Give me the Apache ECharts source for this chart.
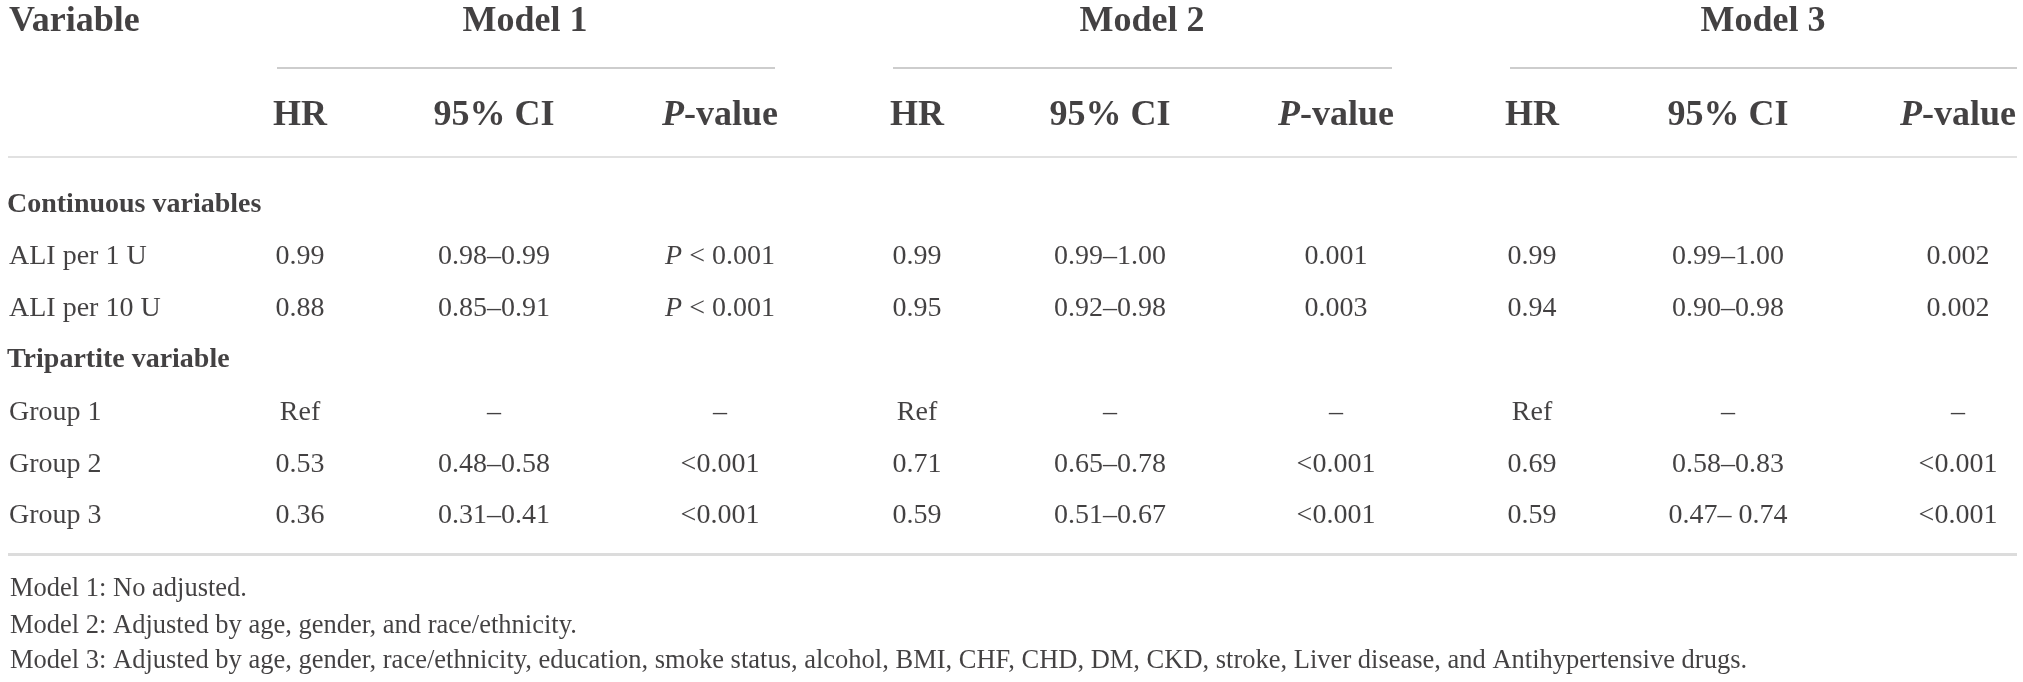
<!DOCTYPE html>
<title>hr table</title>
<style>
body {
    margin: 0;
    background: #fff;
}
#echart {
    height: 100vh;
    width: 100vw;
}
</style>
<div id='echart'></div>
<script src='https://cdn.jsdelivr.net/npm/echarts@6.0.0/dist/echarts.min.js'></script>
<script>
// table content
let models = ['Model 1', 'Model 2', 'Model 3']
let stat_headers = ['HR', '95% CI', '{bi|P}-value']
let sections = ['Continuous variables', 'Tripartite variable']
let row_labels = ['ALI per 1 U', 'ALI per 10 U', 'Group 1', 'Group 2', 'Group 3']
let hr = [
    ['0.99', '0.88', 'Ref', '0.53', '0.36'],
    ['0.99', '0.95', 'Ref', '0.71', '0.59'],
    ['0.99', '0.94', 'Ref', '0.69', '0.59'],
]
let ci = [
    ['0.98–0.99', '0.85–0.91', '–', '0.48–0.58', '0.31–0.41'],
    ['0.99–1.00', '0.92–0.98', '–', '0.65–0.78', '0.51–0.67'],
    ['0.99–1.00', '0.90–0.98', '–', '0.58–0.83', '0.47– 0.74'],
]
let p_values = [
    ['{i|P} < 0.001', '{i|P} < 0.001', '–', '<0.001', '<0.001'],
    ['0.001', '0.003', '–', '<0.001', '<0.001'],
    ['0.002', '0.002', '–', '<0.001', '<0.001'],
]
let footnotes = [
    'Model 1: No adjusted.',
    'Model 2: Adjusted by age, gender, and race/ethnicity.',
    'Model 3: Adjusted by age, gender, race/ethnicity, education, smoke status, alcohol, BMI, CHF, CHD, DM, CKD, stroke, Liver disease, and Antihypertensive drugs.',
]

// layout (page units, same as the 2023x682 window)
let WIDTH = 2023
let HEIGHT = 682
let LEFT = 9
let RIGHT = 2017
let MODEL_X = [525, 1142, 1763]
let COL_X = [[300, 494, 720], [917, 1110, 1336], [1532, 1728, 1958]]
let MODEL_LINE = [[277, 775], [893, 1392], [1510, 2017]]
let Y_TITLE = 22
let Y_MODEL_LINE = 68
let Y_STATS = 116
let Y_TOP_RULE = 157
let Y_SECTION = [205, 360]
let Y_ROWS = [257, 309, 413, 465, 516]
let Y_BOTTOM_RULE = 554
let Y_NOTES = [589, 626, 661]

let FONT = 'Liberation Serif'
let INK = '#141213'

let echart = echarts.init(document.querySelector('#echart'))

function text_series(data, size, weight, align) {
    return {
        type: 'scatter',
        symbolSize: 0,
        silent: true,
        data: data,
        label: {
            show: true,
            position: 'inside',
            align: align,
            verticalAlign: 'middle',
            formatter: function (p) { return p.value[2] },
            fontFamily: FONT,
            fontSize: size,
            fontWeight: weight,
            color: INK,
            rich: {
                i: {fontFamily: FONT, fontSize: size, fontStyle: 'italic', fontWeight: weight, color: INK},
                bi: {fontFamily: FONT, fontSize: size, fontStyle: 'italic', fontWeight: 'bold', color: INK},
            },
        },
    }
}

let header_cells = [[LEFT, Y_TITLE, 'Variable']]
models.forEach(function (m, i) { header_cells.push([MODEL_X[i], Y_TITLE, m]) })
let stat_cells = []
COL_X.forEach(function (cols) {
    cols.forEach(function (x, j) { stat_cells.push([x, Y_STATS, stat_headers[j]]) })
})
let section_cells = sections.map(function (s, i) { return [LEFT - 2, Y_SECTION[i], s] })
let label_cells = row_labels.map(function (r, i) { return [LEFT, Y_ROWS[i], r] })
let body_cells = []
for (let m = 0; m < models.length; m++) {
    for (let r = 0; r < row_labels.length; r++) {
        body_cells.push([COL_X[m][0], Y_ROWS[r], hr[m][r]])
        body_cells.push([COL_X[m][1], Y_ROWS[r], ci[m][r]])
        body_cells.push([COL_X[m][2], Y_ROWS[r], p_values[m][r]])
    }
}
let note_cells = footnotes.map(function (n, i) { return [LEFT + 1, Y_NOTES[i], n] })

let rules = MODEL_LINE.map(function (seg) {
    return {coords: [[seg[0], Y_MODEL_LINE], [seg[1], Y_MODEL_LINE]], lineStyle: {color: '#7c7c7c', width: 1.5}}
})
rules.push({coords: [[LEFT - 1, Y_TOP_RULE], [RIGHT, Y_TOP_RULE]], lineStyle: {color: '#c4c4c4', width: 2}})
rules.push({coords: [[LEFT - 1, Y_BOTTOM_RULE], [RIGHT, Y_BOTTOM_RULE]], lineStyle: {color: '#bababa', width: 3}})

let option = {
    animation: false,
    grid: {left: 0, right: 0, top: 0, bottom: 0},
    xAxis: {type: 'value', min: 0, max: WIDTH, show: false},
    yAxis: {type: 'value', min: 0, max: HEIGHT, inverse: true, show: false},
    series: [
        {type: 'lines', coordinateSystem: 'cartesian2d', silent: true, data: rules},
        text_series(header_cells.slice(0, 1), 36, 'bold', 'left'),
        text_series(header_cells.slice(1), 36, 'bold', 'center'),
        text_series(stat_cells, 36, 'bold', 'center'),
        text_series(section_cells, 28, 'bold', 'left'),
        text_series(label_cells, 28, 'normal', 'left'),
        text_series(body_cells, 28, 'normal', 'center'),
        text_series(note_cells, 26.5, 'normal', 'left'),
    ],
}
echart.setOption(option)
addEventListener('resize', function () { echart.resize() })
</script>
